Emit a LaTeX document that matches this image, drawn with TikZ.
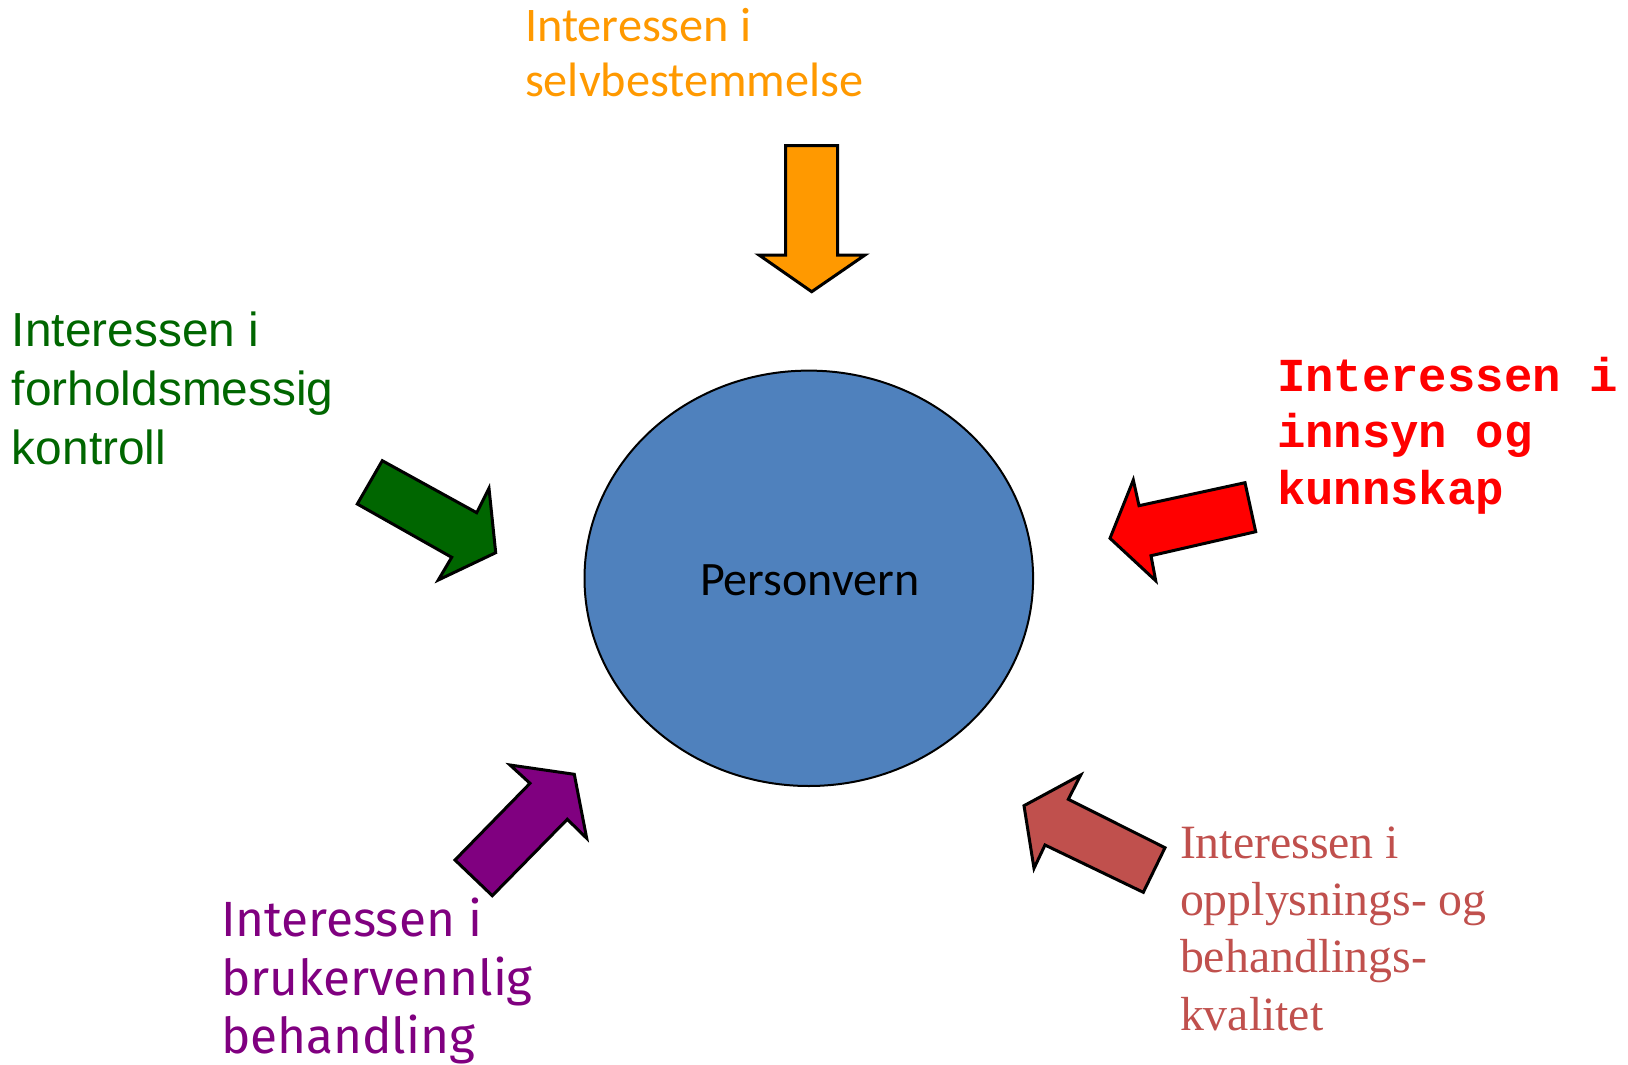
\documentclass[tikz,border=0pt]{standalone}
\usepackage{fontspec}
\usetikzlibrary{shapes.geometric}
\setmainfont{Carlito}
\newfontfamily\arialf{Liberation Sans}
\newfontfamily\courf{Liberation Mono}
\newfontfamily\timesf{Liberation Serif}
\newfontfamily\comicf{Fira Sans}
\definecolor{cOrange}{HTML}{FF9900}
\definecolor{cGreen}{HTML}{006600}
\definecolor{cRed}{HTML}{FF0000}
\definecolor{cPurple}{HTML}{800080}
\definecolor{cBrown}{HTML}{C0504D}
\definecolor{cBlue}{HTML}{4F81BD}
\tikzset{
  arrowshape/.style={draw=black, line width=3, line join=miter},
  lbl/.style={anchor=base west, inner sep=0pt, outer sep=0pt, align=left}
}
\begin{document}
\begin{tikzpicture}[x=1pt,y=-1pt]
\useasboundingbox (0,0) rectangle (1628,1065);
% central ellipse
\node[draw=black, line width=2, fill=cBlue, ellipse, minimum width=448.6, minimum height=415.4, inner sep=0] (pv) at (808.8,578.3) {};
\node[inner sep=0, anchor=base, font=\fontsize{48}{56}\selectfont] (pvt) at (809.7,595) {Personvern};

% orange arrow (top)
\filldraw[arrowshape, fill=cOrange] (785.7,145.7) -- (837.7,145.7) -- (837.7,255) -- (865,255) -- (811.7,291.7) -- (759,255) -- (785.7,255) -- cycle;
% green arrow (left)
\filldraw[arrowshape, fill=cGreen] (382.3,460.7) -- (476.7,512.7) -- (489,488.3) -- (495.7,552.7) -- (438.3,580) -- (451.7,557.3) -- (357.3,504) -- cycle;
% red arrow (right)
\filldraw[arrowshape, fill=cRed] (1245,482.7) -- (1255.7,531.7) -- (1151,555.7) -- (1155.7,580.7) -- (1110,538.3) -- (1133.3,480) -- (1139,505.7) -- cycle;
% purple arrow (bottom left)
\filldraw[arrowshape, fill=cPurple] (492.3,895.7) -- (455,860) -- (530,783.3) -- (510,765) -- (574.3,774.3) -- (586.7,838.3) -- (567.3,819.3) -- cycle;
% brown arrow (bottom right)
\filldraw[arrowshape, fill=cBrown] (1165,847.7) -- (1143.3,892.3) -- (1045,845) -- (1034,868.3) -- (1024,805.7) -- (1080.7,775) -- (1068.3,799.3) -- cycle;

% labels (anchored at the baseline of the last line)
\node[lbl, text=cOrange, font=\fontsize{48.3}{55.7}\selectfont] (tO) at (525,96.7) {Interessen i\\selvbestemmelse};
\node[lbl, text=cGreen, font=\arialf\fontsize{47.8}{58.6}\selectfont] (tG) at (12,464) {Interessen i\\forholdsmessig\\kontroll};
\node[lbl, text=cRed, font=\courf\bfseries\fontsize{47.3}{56.2}\selectfont] (tR) at (1277,504.1) {Interessen i\\innsyn og\\kunnskap};
\node[lbl, text=cPurple, font=\comicf\fontsize{49.5}{58.3}\selectfont] (tP) at (221,1053.3) {Interessen i\\brukervennlig\\behandling};
\node[lbl, text=cBrown, font=\timesf\fontsize{47.8}{57.3}\selectfont] (tB) at (1180,1030.2) {Interessen i\\opplysnings- og\\behandlings-\\kvalitet};
\end{tikzpicture}
\end{document}
